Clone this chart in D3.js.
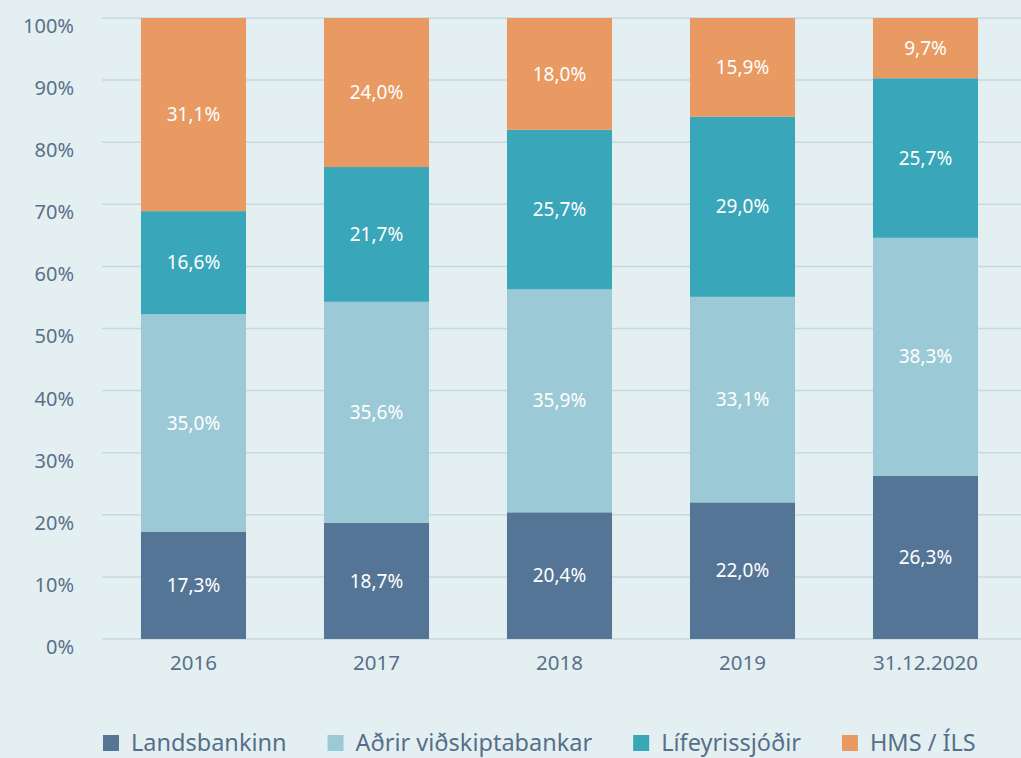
<!DOCTYPE html>
<html>
<head>
<meta charset="utf-8">
<script src="https://cdn.jsdelivr.net/npm/d3@7"></script>
<style>
  body { margin: 0; background: #e4eff2; }
  svg { display: block; font-family: "Noto Sans", "Open Sans", sans-serif; }
  .tick text { fill: #5a708a; }
</style>
</head>
<body>
<div id="chart"></div>
<script>
// data
var years = ["2016", "2017", "2018", "2019", "31.12.2020"];
var seriesNames = ["Landsbankinn", "Aðrir viðskiptabankar", "Lífeyrissjóðir", "HMS / ÍLS"];
var landsbankinn = [17.3, 18.7, 20.4, 22.0, 26.3];
var adrirBankar = [35.0, 35.6, 35.9, 33.1, 38.3];
var lifeyrissjodir = [16.6, 21.7, 25.7, 29.0, 25.7];
var hmsIls = [31.1, 24.0, 18.0, 15.9, 9.7];
var yTicks = [0, 10, 20, 30, 40, 50, 60, 70, 80, 90, 100];

var colors = ["#557596", "#9bcad6", "#3aa6b9", "#e89a62"];

var svgWidth = 1021;
var svgHeight = 758;

var svg = d3.select("#chart")
  .append("svg")
  .attr("width", svgWidth)
  .attr("height", svgHeight);

svg.append("rect")
  .attr("width", svgWidth)
  .attr("height", svgHeight)
  .attr("fill", "#e4eff2");

// build table for stacking
var table = years.map(function(y, i) {
  return {
    year: y,
    "Landsbankinn": landsbankinn[i],
    "Aðrir viðskiptabankar": adrirBankar[i],
    "Lífeyrissjóðir": lifeyrissjodir[i],
    "HMS / ÍLS": hmsIls[i]
  };
});
var stacked = d3.stack().keys(seriesNames)(table);

var xScale = d3.scaleBand()
  .domain(years)
  .range([102, 1017])
  .paddingInner(0.426)
  .paddingOuter(0.213);

var yScale = d3.scaleLinear()
  .domain([0, 100])
  .range([639, 18]);

// gridlines
svg.append("g")
  .selectAll("line")
  .data(yTicks)
  .enter()
  .append("line")
  .attr("x1", 102)
  .attr("x2", svgWidth)
  .attr("y1", d => yScale(d))
  .attr("y2", d => yScale(d))
  .attr("stroke", "#c8d9de")
  .attr("stroke-width", 1.5);

// y axis
var leftAxis = d3.axisLeft(yScale)
  .tickValues(yTicks)
  .tickSize(0)
  .tickPadding(0)
  .tickFormat(d => d + "%");

svg.append("g")
  .attr("transform", "translate(74, 8)")
  .call(leftAxis)
  .attr("font-family", null)
  .attr("font-size", null)
  .call(g => g.select(".domain").remove())
  .selectAll("text")
  .style("font-size", "20px");

// x axis
var bottomAxis = d3.axisBottom(xScale).tickSize(0).tickPadding(0);
svg.append("g")
  .attr("transform", "translate(0, 655)")
  .call(bottomAxis)
  .attr("font-family", null)
  .attr("font-size", null)
  .call(g => g.select(".domain").remove())
  .selectAll("text")
  .style("font-size", "20.5px");

// bars
var layers = svg.selectAll(".layer")
  .data(stacked)
  .enter()
  .append("g")
  .attr("class", "layer")
  .attr("fill", (d, i) => colors[i]);

layers.selectAll("rect")
  .data(d => d)
  .enter()
  .append("rect")
  .attr("x", d => xScale(d.data.year))
  .attr("y", d => yScale(d[1]))
  .attr("width", xScale.bandwidth())
  .attr("height", d => yScale(d[0]) - yScale(d[1]));

layers.selectAll("text")
  .data(d => d)
  .enter()
  .append("text")
  .attr("x", d => xScale(d.data.year) + xScale.bandwidth() / 2)
  .attr("y", d => (yScale(d[0]) + yScale(d[1])) / 2)
  .attr("dy", "0.35em")
  .attr("text-anchor", "middle")
  .attr("fill", "#ffffff")
  .style("font-size", "19px")
  .text(d => d3.format(".1f")(d[1] - d[0]).replace(".", ",") + "%");

// legend
var legend = svg.append("g").attr("transform", "translate(103, 735)");
var lx = 0;
seriesNames.forEach(function(name, i) {
  var item = legend.append("g").attr("transform", `translate(${lx}, 0)`);
  item.append("rect")
    .attr("width", 16)
    .attr("height", 16)
    .attr("fill", colors[i]);
  var t = item.append("text")
    .attr("x", 28)
    .attr("y", 16)
    .attr("fill", "#566f8a")
    .style("font-size", "23.5px")
    .text(name);
  lx += 28 + t.node().getComputedTextLength() + 41;
});
</script>
</body>
</html>
